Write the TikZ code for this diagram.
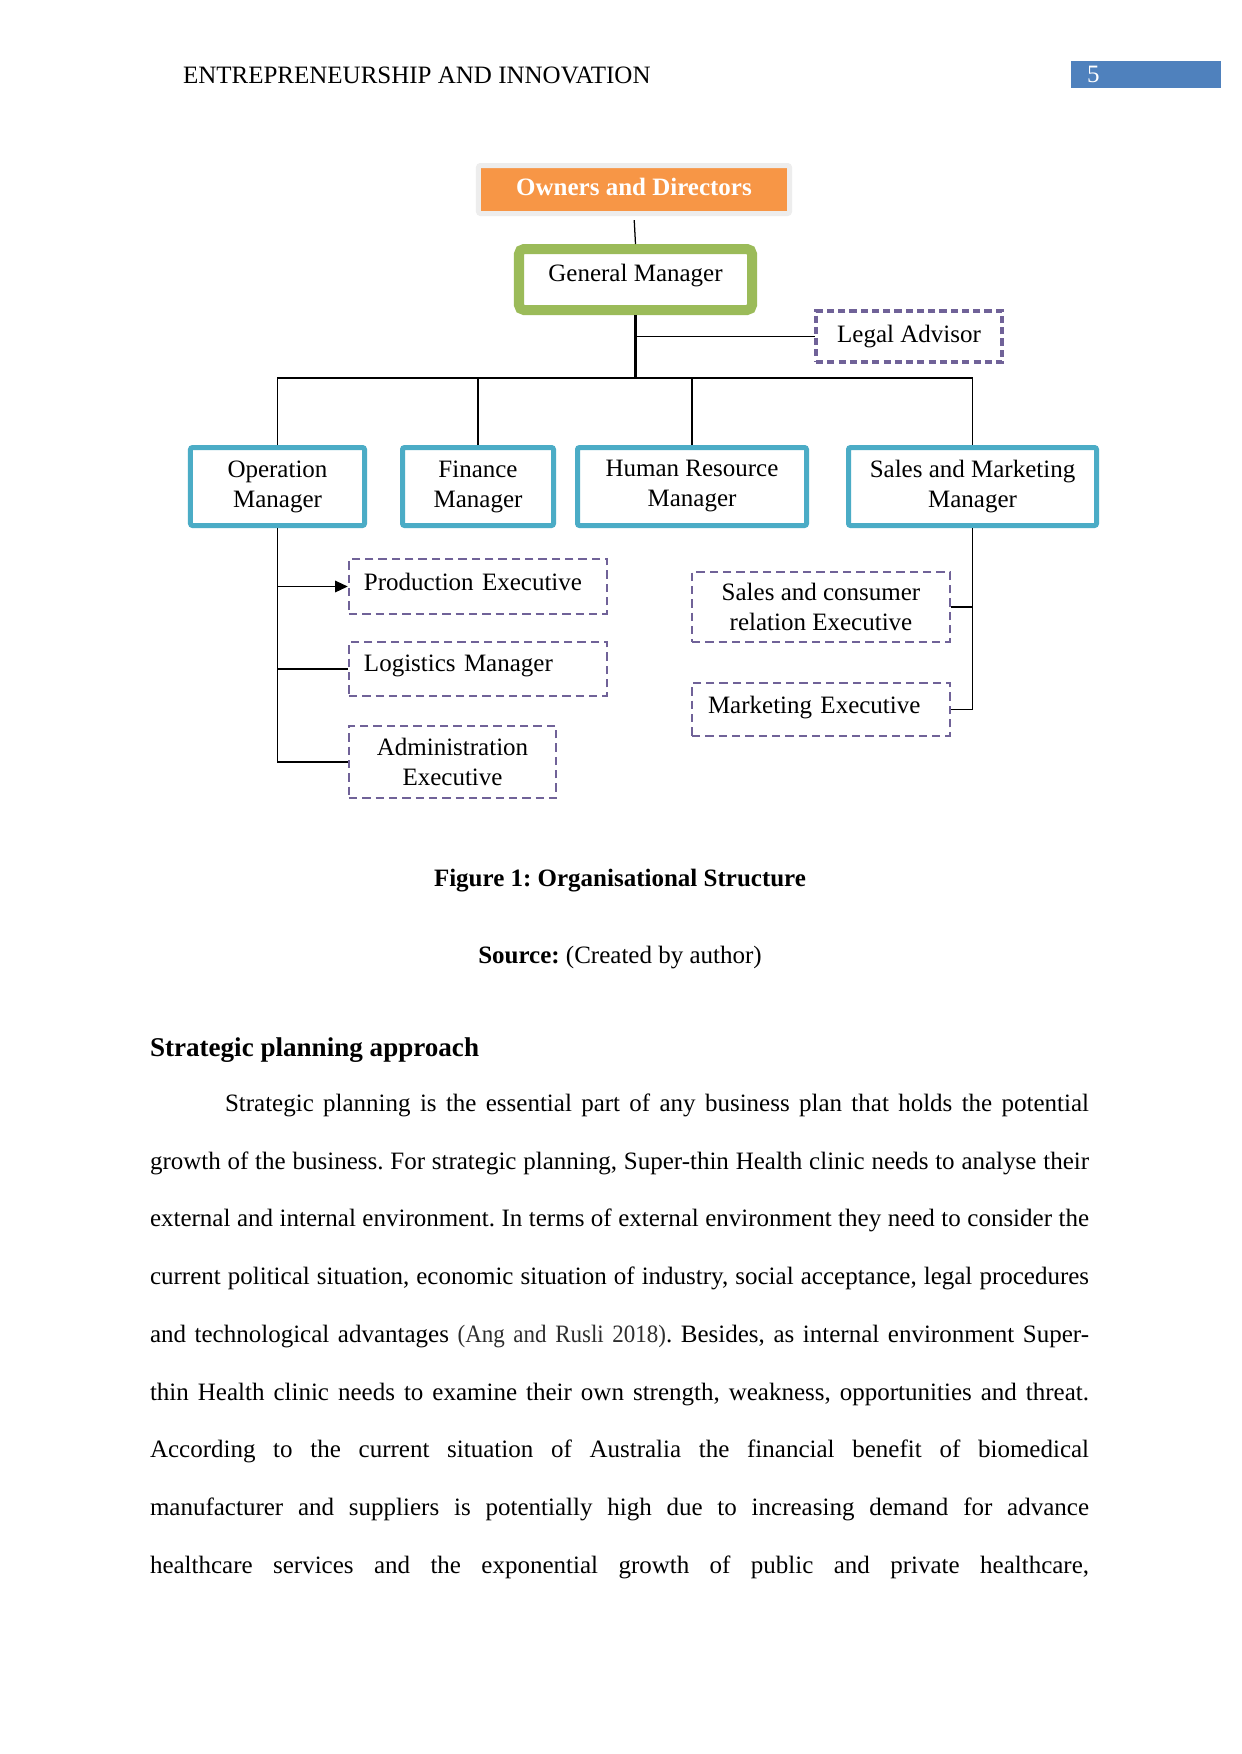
\documentclass[tikz,border=0pt]{standalone}
\usepackage{fontspec}
\setmainfont{Liberation Serif}
\newfontfamily\citefont[FakeStretch=0.92]{Liberation Serif}
\usetikzlibrary{arrows.meta}
\definecolor{orng}{HTML}{F79646}
\definecolor{grn}{HTML}{9BBB59}
\definecolor{blu}{HTML}{4BACC6}
\definecolor{purp}{RGB}{112,98,152}
\definecolor{pgblue}{HTML}{4F81BD}
\newcommand\jl[1]{\noindent\hbox to\linewidth{\frenchspacing\spaceskip=3bp plus 1fil minus 0.6bp\relax #1}\par}
\frenchspacing
\begin{document}
\begin{tikzpicture}[x=0.48bp,y=-0.48bp,
  every node/.style={inner sep=0pt,outer sep=0pt},
  txt/.style={font=\fontsize{12bp}{14.4bp}\selectfont\frenchspacing},
  ownerbox/.style={txt,draw=black!7,line width=2.4bp,fill=orng,text=white,
    font=\fontsize{12bp}{14.4bp}\selectfont\bfseries,rounded corners=1bp,
    minimum width=149.28bp,minimum height=23.04bp,outer sep=1.2bp,text depth=2.4bp},
  gmbox/.style={txt,draw=grn,line width=4.8bp,fill=white,rounded corners=2.4bp,
    minimum width=111.84bp,minimum height=29.28bp,outer sep=2.4bp,text depth=6.6bp},
  mgrbox/.style={txt,draw=blu,line width=2.4bp,fill=white,rounded corners=1bp,
    align=center,minimum height=37.44bp,outer sep=1.2bp},
  dbox/.style={txt,draw=purp,line width=1.2bp,dash pattern=on 4bp off 2.4bp,
    fill=white,outer sep=0.6bp},
  conn/.style={line width=0.6bp,black},
  ]
\path[use as bounding box,fill=white] (0,0) rectangle (1241,1754);

% header
\node[txt,anchor=base west] (head) at (183,83) {ENTREPRENEURSHIP AND INNOVATION};
\node[txt,fill=pgblue,text=white,minimum height=12.96bp,inner xsep=7.68bp,
  text width=56.64bp,align=left] (pnum) at (1146,74.5) {5};

% nodes
\node[ownerbox] (owners) at (634,189.5) {Owners and Directors};
\node[gmbox] (gm) at (635.5,279.5) {General Manager};
\node[dbox,line width=1.5bp,dash pattern=on 3.4bp off 2bp,
  minimum width=89.28bp,minimum height=24.48bp,text depth=2.8bp] (legal) at (909,336.5) {Legal Advisor};

\node[mgrbox,minimum width=83.52bp] (opm) at (277.5,486.5) {Operation\\Manager};
\node[mgrbox,minimum width=72.48bp] (fin) at (478,486.5) {Finance\\Manager};
\node[mgrbox,minimum width=109.92bp] (hrm) at (692,486.5) {Human Resource\\Manager};
\node[mgrbox,minimum width=119.04bp] (smm) at (972.5,486.5) {Sales and Marketing\\Manager};

\node[dbox,text width=109.44bp,inner xsep=7.2bp,align=left,minimum height=26.4bp,
  text depth=4.4bp] (prod) at (478,586.5) {Production Executive};
\node[dbox,text width=109.44bp,inner xsep=7.2bp,align=left,minimum height=25.92bp,
  text depth=5.4bp] (logi) at (478,669) {Logistics Manager};
\node[dbox,align=center,minimum width=99.36bp,minimum height=34.56bp] (admin) at (452.5,762) {Administration\\Executive};
\node[dbox,align=center,minimum width=123.84bp,minimum height=33.6bp] (sce) at (821,607) {Sales and consumer\\relation Executive};
\node[dbox,text width=108.48bp,inner xsep=7.68bp,align=left,minimum height=25.44bp,
  text depth=4.8bp] (mkt) at (821,709.5) {Marketing Executive};

\coordinate (bus) at (636,378);

% connectors
\draw[conn,shorten <=2bp] (owners.south) -- (gm.north);
\draw[conn,line width=1bp] (gm.south) -- (gm.south |- bus);
\draw[conn] (gm.south |- legal.west) -- (legal.west);
\draw[conn] (opm.north) -- (opm.north |- bus) -- (smm.north |- bus) -- (smm.north);
\draw[conn] (fin.north) -- (fin.north |- bus);
\draw[conn] (hrm.north) -- (hrm.north |- bus);
\draw[conn] (opm.south) |- (admin.west);
\draw[conn,-{Triangle[length=6bp,width=5.5bp]}] (opm.south |- prod.west) -- (prod.west);
\draw[conn] (opm.south |- logi.west) -- (logi.west);
\draw[conn] (smm.south) |- (mkt.east);
\draw[conn] (smm.south |- sce.east) -- (sce.east);

% caption
\node[txt,font=\fontsize{12bp}{14.4bp}\selectfont\bfseries,anchor=base] (cap) at (620,886) {Figure 1: Organisational Structure};
\node[txt,anchor=base] (src) at (620,963) {\textbf{Source:} (Created by author)};
\node[txt,font=\fontsize{13bp}{15.6bp}\selectfont\bfseries,anchor=base west] (sec) at (150,1056) {Strategic planning approach};

% paragraph
\node[font=\fontsize{12bp}{27.7bp}\selectfont,anchor=base west,text width=450.72bp,align=left] (para) at (150,1111.5) {%
\jl{\kern36bp Strategic planning is the essential part of any business plan that holds the potential}
\jl{growth of the business. For strategic planning, Super-thin Health clinic needs to analyse their}
\jl{external and internal environment. In terms of external environment they need to consider the}
\jl{current political situation, economic situation of industry, social acceptance, legal procedures}
\jl{and technological advantages {\citefont\color{black!82}(Ang and Rusli 2018)}. Besides, as internal environment Super-}
\jl{thin Health clinic needs to examine their own strength, weakness, opportunities and threat.}
\jl{According to the current situation of Australia the financial benefit of biomedical}
\jl{manufacturer and suppliers is potentially high due to increasing demand for advance}
\jl{healthcare services and the exponential growth of public and private healthcare,}};
\end{tikzpicture}
\end{document}
